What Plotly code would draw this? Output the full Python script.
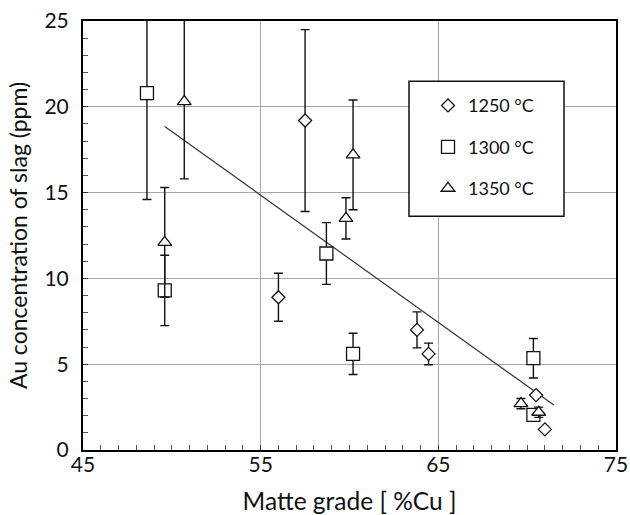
import plotly.graph_objects as go

# Matte grade (%Cu), Au in slag (ppm) and standard deviation per temperature
x_1250 = [57.5, 56.0, 63.8, 64.45, 70.5, 71.0]
y_1250 = [19.2, 8.9, 7.0, 5.6, 3.2, 1.2]
e_1250 = [5.3, 1.4, 1.05, 0.63, 0.0, 0.0]

x_1300 = [48.6, 49.6, 58.7, 60.2, 70.35, 70.35]
y_1300 = [20.8, 9.3, 11.45, 5.6, 5.35, 2.05]
e_1300 = [6.2, 2.05, 1.8, 1.2, 1.15, 0.0]

x_1350 = [50.7, 49.6, 60.2, 59.8, 69.65, 70.65]
y_1350 = [20.3, 12.1, 17.2, 13.5, 2.7, 2.2]
e_1350_plus = [5.0, 3.2, 3.2, 1.2, 0.3, 0.3]
e_1350_minus = [4.5, 3.2, 3.2, 1.2, 0.3, 0.3]

# Linear trend across all temperatures
trend_x = [49.6, 71.5]
trend_y = [18.85, 2.62]

series_names = ["1250 °C", "1300 °C", "1350 °C"]
x_ticks = [45, 55, 65, 75]
y_ticks = [0, 5, 10, 15, 20, 25]

FONT = "Lato"
INK = "#111111"

fig = go.Figure()

fig.add_trace(go.Scatter(
    x=trend_x, y=trend_y, mode="lines",
    line=dict(color="#333333", width=1.2),
    showlegend=False, hoverinfo="skip",
))

err_style = dict(type="data", color=INK, thickness=1.4, width=4.5)

fig.add_trace(go.Scatter(
    x=x_1250, y=y_1250, mode="markers", name=series_names[0], legendgroup="a",
    error_y=dict(array=e_1250, **err_style),
    marker=dict(symbol="diamond", size=10, color="white",
                line=dict(color=INK, width=1.3)),
))
fig.add_trace(go.Scatter(
    x=x_1300, y=y_1300, mode="markers", name=series_names[1], legendgroup="b",
    error_y=dict(array=e_1300, **err_style),
    marker=dict(symbol="square", size=13, color="white",
                line=dict(color=INK, width=1.3)),
))
fig.add_trace(go.Scatter(
    x=x_1350, y=y_1350, mode="markers", name=series_names[2], legendgroup="c",
    error_y=dict(array=e_1350_plus, arrayminus=e_1350_minus, symmetric=False,
                 **err_style),
    marker=dict(symbol="triangle-up", size=12, color="white",
                line=dict(color=INK, width=1.3)),
))

axis_common = dict(
    showline=True, linecolor="black", linewidth=2, mirror=True,
    showgrid=True, gridcolor="#a6a6a6", gridwidth=1,
    zeroline=False,
    ticks="inside", ticklen=5, tickcolor="#333333", tickwidth=1,
    minor=dict(dtick=1, ticks="inside", ticklen=5, tickcolor="#555555",
               tickwidth=1, showgrid=False),
    tickfont=dict(family=FONT, size=21, color=INK),
)

fig.update_xaxes(
    range=[45, 75], tickvals=x_ticks, ticklabelstandoff=-5, **axis_common,
    title=dict(text="Matte grade [ %Cu ]", font=dict(family=FONT, size=24.5, color=INK),
               standoff=20),
)
fig.update_yaxes(
    range=[0, 25], tickvals=y_ticks, ticklabelstandoff=8, **axis_common,
    title=dict(text="Au concentration of slag (ppm)",
               font=dict(family=FONT, size=23, color=INK), standoff=10),
)

# Legend frame
fig.add_shape(
    type="rect", xref="paper", yref="paper", layer="above",
    x0=(409 - 83) / 533, x1=(564 - 83) / 533,
    y0=(450 - 216) / 429.3, y1=(450 - 81) / 429.3,
    line=dict(color=INK, width=1.5), fillcolor="white",
)

fig.update_layout(
    width=630, height=515,
    margin=dict(l=83, r=14, t=21, b=65, autoexpand=False),
    paper_bgcolor="white", plot_bgcolor="white",
    showlegend=True,
    legend=dict(
        x=(428 - 83) / 533, y=(450 - 87) / 429.3, xanchor="left", yanchor="top",
        bgcolor="rgba(0,0,0,0)", borderwidth=0,
        font=dict(family=FONT, size=18, color=INK),
        traceorder="grouped", tracegroupgap=15,
    ),
    font=dict(family=FONT, color=INK),
)

fig.write_html("out.html")
